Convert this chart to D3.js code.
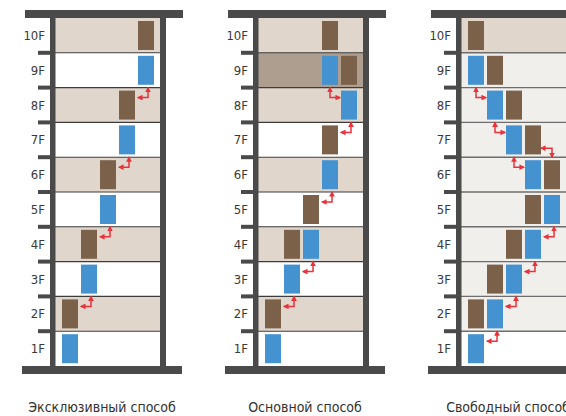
<!DOCTYPE html>
<html>
<head>
<meta charset="utf-8">
<script src="https://cdn.jsdelivr.net/npm/d3@7"></script>
<style>
  body { margin: 0; background: #fff; }
  svg text { font-family: "DejaVu Sans Condensed", "DejaVu Sans", sans-serif; font-stretch: condensed; }
</style>
</head>
<body>
<div id="chart"></div>
<script>
// floors top to bottom
var floors = ["10F", "9F", "8F", "7F", "6F", "5F", "4F", "3F", "2F", "1F"];
var titles = ["Эксклюзивный способ", "Основной способ", "Свободный способ"];

// floor shading: t = tan, d = dark tan, g = light grey, w = white
var shade1 = ["t", "w", "t", "w", "t", "w", "t", "w", "t", "w"];
var shade2 = ["t", "d", "t", "w", "t", "w", "t", "w", "t", "w"];
var shade3 = ["t", "g", "g", "g", "g", "g", "g", "g", "g", "w"];

// cars: [floor, column 0..4, kind]
var cars1 = [["10F",4,"car"],["9F",4,"lift"],["8F",3,"car"],["7F",3,"lift"],["6F",2,"car"],
             ["5F",2,"lift"],["4F",1,"car"],["3F",1,"lift"],["2F",0,"car"],["1F",0,"lift"]];
var cars2 = [["10F",3,"car"],["9F",3,"lift"],["9F",4,"car"],["8F",4,"lift"],["7F",3,"car"],
             ["6F",3,"lift"],["5F",2,"car"],["4F",1,"car"],["4F",2,"lift"],["3F",1,"lift"],
             ["2F",0,"car"],["1F",0,"lift"]];
var cars3 = [["10F",0,"car"],["9F",0,"lift"],["9F",1,"car"],["8F",1,"lift"],["8F",2,"car"],
             ["7F",2,"lift"],["7F",3,"car"],["6F",3,"lift"],["6F",4,"car"],["5F",3,"car"],
             ["5F",4,"lift"],["4F",2,"car"],["4F",3,"lift"],["3F",1,"car"],["3F",2,"lift"],
             ["2F",0,"car"],["2F",1,"lift"],["1F",0,"lift"]];

// arrows: [floor, column of the vertical leg, direction]
var arrows1 = [["8F",4,"L"],["6F",3,"L"],["4F",2,"L"],["2F",1,"L"]];
var arrows2 = [["8F",3,"R"],["7F",4,"L"],["5F",3,"L"],["3F",2,"L"],["2F",1,"L"]];
var arrows3 = [["8F",0,"R"],["7F",1,"R"],["6F",2,"R"],["7F",4,"DL"],
               ["4F",4,"L"],["3F",3,"L"],["2F",2,"L"],["1F",1,"L"]];

var shades = [shade1, shade2, shade3];
var carSets = [cars1, cars2, cars3];
var arrowSets = [arrows1, arrows2, arrows3];

var fills = { t: "#e0d6cc", d: "#ae9e8f", g: "#f1efec", w: "#ffffff" };
var carColor = { car: "#7b614a", lift: "#4592d0" };
var wall = "#4a4a4a", red = "#e8333c";

var width = 566, height = 416;
var svg = d3.select("#chart").append("svg")
    .attr("width", width).attr("height", height);

svg.append("defs").append("marker")
    .attr("id", "head")
    .attr("viewBox", "0 0 10 10")
    .attr("refX", 8).attr("refY", 5)
    .attr("markerWidth", 3.8).attr("markerHeight", 3.8)
    .attr("orient", "auto-start-reverse")
  .append("path")
    .attr("d", "M0,0 L10,5 L0,10 Z")
    .attr("fill", red);

var y = d3.scaleBand().domain(floors).range([18, 366]);
var col = d3.scaleLinear().domain([0, 4]).range([12, 88]);
var bx = d3.scaleLinear().domain([0, 2]).range([50, 456]);

titles.forEach(function(title, b) {
  var L = bx(b);
  var g = svg.append("g").attr("transform", "translate(" + L + ",0)");

  // floor fills
  g.selectAll("rect.floor")
    .data(floors)
    .enter().append("rect")
      .attr("class", "floor")
      .attr("x", 5).attr("width", 106)
      .attr("y", function(d) { return y(d); })
      .attr("height", y.bandwidth())
      .attr("fill", function(d, i) { return fills[shades[b][i]]; });

  // floor dividers + stubs
  var divs = floors.slice(1);
  g.selectAll("line.div")
    .data(divs)
    .enter().append("line")
      .attr("x1", 5).attr("x2", 111)
      .attr("y1", function(d) { return y(d); })
      .attr("y2", function(d) { return y(d); })
      .attr("stroke", b == 2 ? "#6e6e6e" : "#3c3c3c")
      .attr("stroke-width", b == 2 ? 1.4 : 1.1);
  g.selectAll("rect.stub")
    .data(divs)
    .enter().append("rect")
      .attr("x", -12).attr("width", 13)
      .attr("y", function(d) { return y(d) - 2; })
      .attr("height", 4)
      .attr("fill", wall);

  // walls
  g.append("rect").attr("x", 0).attr("y", 16).attr("width", 5.5).attr("height", 352).attr("fill", wall);
  g.append("rect").attr("x", 110).attr("y", 16).attr("width", 6).attr("height", 352).attr("fill", wall);
  g.append("rect").attr("x", -25).attr("y", 10).attr("width", 158).attr("height", 8).attr("fill", wall);
  g.append("rect").attr("x", -28).attr("y", 366).attr("width", 160).attr("height", 8).attr("fill", wall);

  // floor labels
  g.selectAll("text.fl")
    .data(floors)
    .enter().append("text")
      .attr("x", -5)
      .attr("y", function(d) { return y(d) + y.bandwidth() / 2; })
      .attr("dy", "0.36em")
      .attr("text-anchor", "end")
      .attr("font-size", 13)
      .attr("fill", "#3a3a3a")
      .text(function(d) { return d; });

  // cars
  g.selectAll("rect.car")
    .data(carSets[b])
    .enter().append("rect")
      .attr("x", function(d) { return col(d[1]); })
      .attr("y", function(d) { return y(d[0]) + 3; })
      .attr("width", 16)
      .attr("height", 29)
      .attr("fill", function(d) { return carColor[d[2]]; });

  // arrows
  g.selectAll("path.arrow")
    .data(arrowSets[b])
    .enter().append("path")
      .attr("d", function(d) {
        var cx = col(d[1]) + 8, top = y(d[0]), bot = top + y.bandwidth();
        if (d[2] == "DL") {
          return "M" + cx + "," + bot + "V" + (bot - 9) + "H" + (cx - 11);
        }
        var x0 = d[2] == "L" ? cx + 2 : cx;
        return "M" + x0 + "," + top + "V" + (top + 10) + "H" + (x0 + (d[2] == "L" ? -10 : 10));
      })
      .attr("fill", "none")
      .attr("stroke", red)
      .attr("stroke-width", 1.5)
      .attr("marker-start", "url(#head)")
      .attr("marker-end", "url(#head)");

  // title
  g.append("text")
    .attr("x", 52)
    .attr("y", 412)
    .attr("text-anchor", "middle")
    .attr("font-size", 14)
    .attr("fill", "#333")
    .text(title);
});
</script>
</body>
</html>
